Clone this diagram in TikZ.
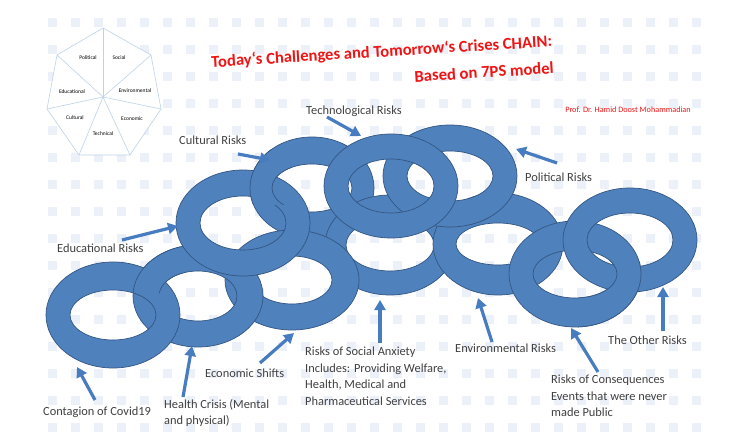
\documentclass[tikz,border=0pt]{standalone}
\usepackage{fontspec}
\setmainfont{Carlito}
\usetikzlibrary{arrows.meta}
\definecolor{ringblue}{RGB}{79,129,189}
\definecolor{ringedge}{RGB}{52,86,130}
\definecolor{arrowblue}{RGB}{72,124,192}
\definecolor{labelgray}{RGB}{64,64,64}
\definecolor{heptline}{RGB}{190,210,232}
\definecolor{dotblue}{RGB}{236,240,248}
\definecolor{titlered}{RGB}{240,20,20}
\tikzset{
  ringstyle/.style={fill=ringblue, draw=ringedge, line width=0.7pt, even odd rule},
  arr/.style={draw=arrowblue, line width=3.2pt, -{Triangle[length=10pt,width=11pt]}},
  lab/.style={font=\fontsize{12.4}{16.5}\selectfont, text=labelgray, inner sep=0pt, align=left},
  hlab/.style={font=\fontsize{5.5}{6.5}\selectfont, text=black, inner sep=0pt},
  hept/.style={draw=heptline, line width=0.6pt},
}
\newcommand{\chainring}[6]{\path[ringstyle] (#1,#2) ellipse [x radius=#3pt, y radius=#4pt] (#1,#2) ellipse [x radius=#5pt, y radius=#6pt];}
\begin{document}
\begin{tikzpicture}[x=1pt,y=-1pt]
\useasboundingbox (0,0) rectangle (735,443);
\fill[white] (0,0) rectangle (735,443);
% background dot pattern
\foreach \x in {52,75,...,715} {
  \foreach \y in {22,49,...,430} {
    \fill[dotblue] (\x-4,\y-4) rectangle ++(9,9);
  }
}
% heptagon
\coordinate (hc) at (103,97);
\coordinate (h1) at (103,28);
\coordinate (h2) at (151,55);
\coordinate (h3) at (161,109);
\coordinate (h4) at (130,155);
\coordinate (h5) at (79,155);
\coordinate (h6) at (47,109);
\coordinate (h7) at (57,55);
\fill[white] (h1)--(h2)--(h3)--(h4)--(h5)--(h6)--(h7)--cycle;
\draw[hept] (h1)--(h2)--(h3)--(h4)--(h5)--(h6)--(h7)--cycle;
\foreach \v in {h1,h2,h3,h4,h5,h6,h7} \draw[hept] (hc)--(\v);
\node[hlab] (hpol) at (88,58) {Political};
\node[hlab] (hsoc) at (119,58) {Social};
\node[hlab] (hedu) at (72,92) {Educational};
\node[hlab] (henv) at (135,91) {Environmental};
\node[hlab] (hcul) at (75,118) {Cultural};
\node[hlab] (heco) at (132,119) {Economic};
\node[hlab] (htec) at (103,134) {Technical};
% title
\node[font=\fontsize{16.6}{27}\selectfont\bfseries, text=titlered, align=right, rotate=3.5, anchor=east, inner sep=0pt] (title) at (553,54)
  {Today‘s Challenges and Tomorrow‘s Crises CHAIN:\\Based on 7PS model};
\node[font=\fontsize{8.2}{9}\selectfont, text=titlered, inner sep=0pt] (author) at (628,110) {Prof. Dr. Hamid Doost Mohammadian};
% rings
\chainring{312}{188}{62}{51}{40}{24}   % R5 cultural
\chainring{390}{245}{65}{50}{44}{26}   % R8 social
\chainring{292}{280}{67}{50}{40}{24}   % R4 economic
\chainring{198}{296}{65}{51}{39}{25}   % R2 health
\chainring{113}{315}{67}{53}{43}{25}   % R1 contagion
\begin{scope}
  \clip (128,238) rectangle (185,292);
  \chainring{198}{296}{65}{51}{39}{25}
\end{scope}
\chainring{243}{223}{67}{53}{43}{27}   % R3 educational
\begin{scope}
  \clip (246,150) rectangle (292,205);
  \chainring{312}{188}{62}{51}{40}{24}
\end{scope}
\chainring{498}{244}{65}{51}{42}{21}   % R9 environmental
\chainring{450}{176}{67}{51}{43}{25}   % R7 political
\chainring{391}{186}{67}{52}{43}{27}   % R6 technological
\chainring{575}{274}{66}{53}{42}{24}   % R10 consequences
\chainring{630}{240}{67}{52}{43}{27}   % R11 other
\begin{scope}
  \clip (578,262) rectangle (645,335);
  \chainring{575}{274}{66}{53}{42}{24}
\end{scope}
% labels
\node[lab, anchor=west] (techlab) at (306,111) {Technological Risks};
\node[lab, anchor=west] (cultlab) at (179,140) {Cultural Risks};
\node[lab, anchor=west] (edulab) at (57,248) {Educational Risks};
\node[lab, anchor=west] (pollab) at (525,177) {Political Risks};
\node[lab, anchor=west] (otherlab) at (608,340) {The Other Risks};
\node[lab, anchor=west] (envlab) at (455,348) {Environmental Risks};
\node[lab, anchor=west] (econlab) at (205,373) {Economic Shifts};
\node[lab, anchor=west] (covlab) at (43,412) {Contagion of Covid19};
\node[lab, anchor=north west] (soclab) at (305,347) {Risks of Social Anxiety\\Includes: Providing Welfare,\\Health, Medical and\\Pharmaceutical Services};
\node[lab, anchor=north west] (conslab) at (551,375) {Risks of Consequences\\Events that were never\\made Public};
\node[lab, anchor=north west] (healthlab) at (164,399) {Health Crisis (Mental\\and physical)};
% arrows
\coordinate (covT) at (95,400);  \coordinate (covH) at (77,367);
\coordinate (heaT) at (183,397); \coordinate (heaH) at (192,346);
\coordinate (ecoT) at (260,363); \coordinate (ecoH) at (294,333);
\coordinate (socT) at (380,343); \coordinate (socH) at (380,300);
\coordinate (envT) at (492,342); \coordinate (envH) at (478,298);
\coordinate (conT) at (598,372); \coordinate (conH) at (571,328);
\coordinate (othT) at (663,331); \coordinate (othH) at (663,287);
\coordinate (eduT) at (122,240); \coordinate (eduH) at (178,226);
\coordinate (culT) at (238,154); \coordinate (culH) at (270,160);
\coordinate (tecT) at (327,117); \coordinate (tecH) at (361,136);
\coordinate (polT) at (557,163); \coordinate (polH) at (516,149);
\draw[arr] (covT) -- (covH);
\draw[arr] (heaT) -- (heaH);
\draw[arr] (ecoT) -- (ecoH);
\draw[arr] (socT) -- (socH);
\draw[arr] (envT) -- (envH);
\draw[arr] (conT) -- (conH);
\draw[arr] (othT) -- (othH);
\draw[arr] (eduT) -- (eduH);
\draw[arr] (culT) -- (culH);
\draw[arr] (tecT) -- (tecH);
\draw[arr] (polT) -- (polH);
\end{tikzpicture}
\end{document}
